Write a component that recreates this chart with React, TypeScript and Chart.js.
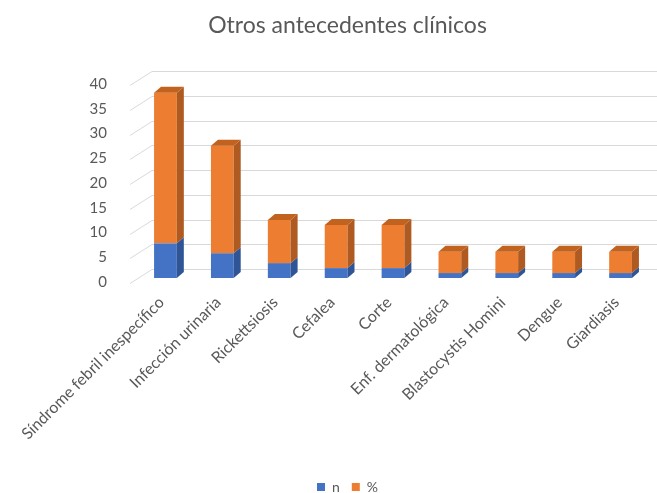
import { useEffect, useRef } from 'react';
import { Chart, registerables } from 'chart.js';

Chart.register(...registerables);

const categories = [
  'Síndrome febril inespecífico',
  'Infección urinaria',
  'Rickettsiosis',
  'Cefalea',
  'Corte',
  'Enf. dermatológica',
  'Blastocystis Homini',
  'Dengue',
  'Giardiasis',
];
const nValues = [7, 5, 3, 2, 2, 1, 1, 1, 1];
const pctValues = [30.4, 21.7, 8.7, 8.7, 8.7, 4.3, 4.3, 4.3, 4.3];
const seriesNames = ['n', '%'];
const titleText = 'Otros antecedentes clínicos';
const yMax = 40;
const yStep = 5;

const FRONT = ['#4472C4', '#ED7D31'];
const SIDE = ['#2F5597', '#AE5A21'];
const TOP = ['#3A62AE', '#C2621F'];
const DX = 7;
const DY = -6;
const FONT = 'Lato, "Open Sans", sans-serif';
const TEXT = '#595959';

const threeD = {
  id: 'threeD',
  beforeDatasetsDraw(chart: any) {
    const { ctx, chartArea, scales } = chart;
    const y = scales.y;
    ctx.save();
    ctx.strokeStyle = '#D9D9D9';
    ctx.lineWidth = 1;
    y.ticks.forEach((t: any) => {
      const yy = Math.round(y.getPixelForValue(t.value)) + 0.5;
      ctx.beginPath();
      ctx.moveTo(chartArea.left - 7, yy + 5);
      ctx.lineTo(chartArea.left + 15, yy - 9);
      ctx.lineTo(chart.width, yy - 9);
      ctx.stroke();
    });
    ctx.restore();
  },
  afterDatasetsDraw(chart: any) {
    const { ctx } = chart;
    const count = chart.data.datasets.length;
    ctx.save();
    chart.data.datasets.forEach((_ds: any, di: number) => {
      const meta = chart.getDatasetMeta(di);
      meta.data.forEach((el: any) => {
        const { x, y, base, width } = el.getProps(['x', 'y', 'base', 'width'], true);
        const l = x - width / 2;
        const r = x + width / 2;
        ctx.fillStyle = SIDE[di];
        ctx.beginPath();
        ctx.moveTo(r, y);
        ctx.lineTo(r + DX, y + DY);
        ctx.lineTo(r + DX, base + DY);
        ctx.lineTo(r, base);
        ctx.closePath();
        ctx.fill();
        if (di === count - 1) {
          ctx.fillStyle = TOP[di];
          ctx.beginPath();
          ctx.moveTo(l, y);
          ctx.lineTo(l + DX, y + DY);
          ctx.lineTo(r + DX, y + DY);
          ctx.lineTo(r, y);
          ctx.closePath();
          ctx.fill();
        }
      });
    });
    ctx.restore();
  },
};

export default function App() {
  const ref = useRef<HTMLCanvasElement>(null);

  useEffect(() => {
    if (!ref.current) return;
    const chart = new Chart(ref.current, {
      type: 'bar',
      data: {
        labels: categories,
        datasets: [
          {
            label: seriesNames[0],
            data: nValues,
            backgroundColor: FRONT[0],
            borderWidth: 0,
            barPercentage: 0.4,
            categoryPercentage: 1,
          },
          {
            label: seriesNames[1],
            data: pctValues,
            backgroundColor: FRONT[1],
            borderWidth: 0,
            barPercentage: 0.4,
            categoryPercentage: 1,
          },
        ],
      },
      options: {
        responsive: false,
        animation: false,
        layout: { padding: { left: 46, right: 8, top: 0, bottom: -11 } },
        plugins: {
          title: {
            display: true,
            text: titleText,
            color: TEXT,
            font: { family: FONT, size: 23, weight: 'normal' },
            padding: { top: 12, bottom: 40.4 },
          },
          legend: {
            position: 'bottom',
            labels: {
              boxWidth: 8,
              boxHeight: 8,
              color: TEXT,
              padding: 12,
              font: { family: FONT, size: 14 },
            },
          },
          tooltip: { enabled: false },
        },
        scales: {
          x: {
            stacked: true,
            grid: { display: false },
            border: { display: false },
            ticks: {
              color: TEXT,
              font: { family: FONT, size: 16 },
              minRotation: 45,
              maxRotation: 45,
              padding: 7,
              labelOffset: -4,
              autoSkip: false,
            },
            afterFit: (s: any) => {
              const lh = s.chart.legend ? s.chart.legend.height : 30;
              s.height = 493 + 11 - 278 - lh;
            },
          },
          y: {
            stacked: true,
            min: 0,
            max: yMax,
            grid: { display: false },
            border: { display: false },
            ticks: {
              stepSize: yStep,
              color: TEXT,
              padding: 22,
              labelOffset: 4,
              font: { family: FONT, size: 15 },
            },
            afterFit: (s: any) => {
              s.width = 91;
            },
          },
        },
      },
      plugins: [threeD],
    });
    return () => chart.destroy();
  }, []);

  return (
    <canvas
      ref={ref}
      width={657}
      height={493}
      style={{ position: 'absolute', left: 0, top: 0, display: 'block' }}
    />
  );
}
